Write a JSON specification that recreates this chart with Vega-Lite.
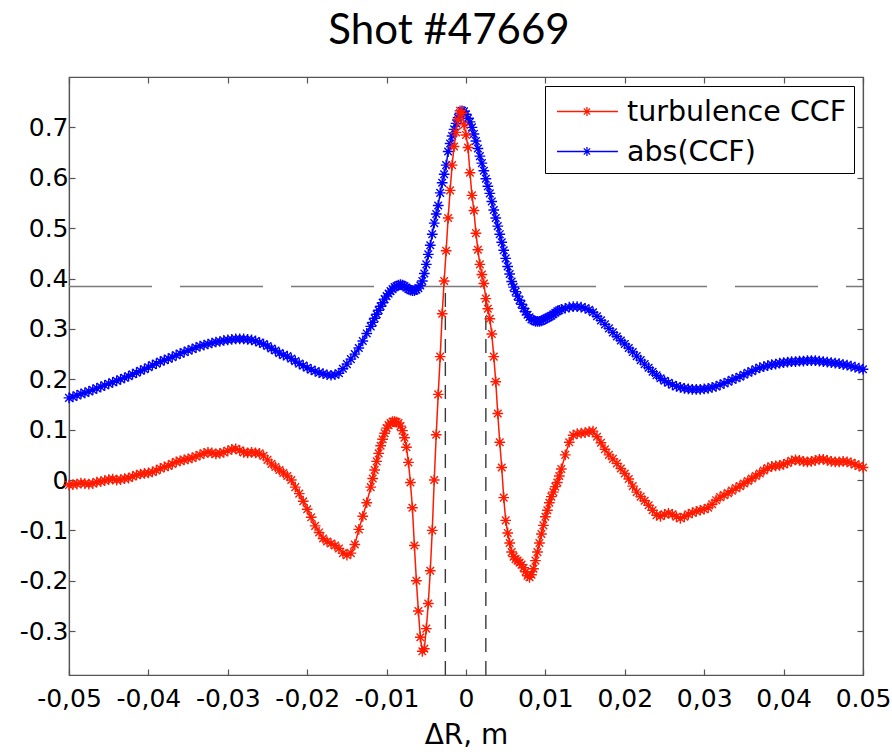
{
  "$schema": "https://vega.github.io/schema/vega-lite/v6.json",
  "width": 794,
  "height": 598,
  "autosize": {"type": "none"},
  "padding": {"left": 69, "top": 77, "right": 29, "bottom": 77},
  "background": "white",
  "title": {"text": "Shot #47669", "font": "Lato", "fontSize": 42, "fontWeight": "normal", "color": "black", "anchor": "middle", "frame": "group", "dx": -17, "dy": 41, "baseline": "alphabetic", "offset": 31},
  "config": {
    "font": "DejaVu Sans",
    "view": {"stroke": "#555", "strokeWidth": 1.2},
    "axis": {"domainColor": "#555", "domainWidth": 1.2, "tickColor": "#555", "tickWidth": 1.2, "tickSize": -6, "labelFont": "DejaVu Sans", "labelFontSize": 25, "labelColor": "black", "labelOverlap": false, "labelFlush": false, "titleFont": "DejaVu Sans", "titleFontSize": 28, "titleFontWeight": "normal", "titleColor": "black", "grid": false}
  },
  "datasets": {
    "ccf": [
      {"x":-0.05,"t":-0.010,"a":0.163},{"x":-0.0495,"t":-0.009,"a":0.165},{"x":-0.049,"t":-0.008,"a":0.168},{"x":-0.0485,"t":-0.006,"a":0.171},{"x":-0.048,"t":-0.007,"a":0.173},{"x":-0.0475,"t":-0.008,"a":0.176},{"x":-0.047,"t":-0.007,"a":0.179},{"x":-0.0465,"t":-0.004,"a":0.182},{"x":-0.046,"t":-0.003,"a":0.185},{"x":-0.0455,"t":-0.001,"a":0.188},
      {"x":-0.045,"t":0.001,"a":0.191},{"x":-0.0445,"t":0.002,"a":0.194},{"x":-0.044,"t":0.000,"a":0.197},{"x":-0.0435,"t":0.001,"a":0.200},{"x":-0.043,"t":0.003,"a":0.203},{"x":-0.0425,"t":0.004,"a":0.206},{"x":-0.042,"t":0.007,"a":0.210},{"x":-0.0415,"t":0.010,"a":0.213},{"x":-0.041,"t":0.012,"a":0.217},{"x":-0.0405,"t":0.013,"a":0.220},
      {"x":-0.04,"t":0.014,"a":0.224},{"x":-0.0395,"t":0.016,"a":0.228},{"x":-0.039,"t":0.019,"a":0.231},{"x":-0.0385,"t":0.023,"a":0.235},{"x":-0.038,"t":0.026,"a":0.238},{"x":-0.0375,"t":0.028,"a":0.241},{"x":-0.037,"t":0.032,"a":0.244},{"x":-0.0365,"t":0.036,"a":0.248},{"x":-0.036,"t":0.038,"a":0.251},{"x":-0.0355,"t":0.040,"a":0.254},
      {"x":-0.035,"t":0.042,"a":0.257},{"x":-0.0345,"t":0.044,"a":0.260},{"x":-0.034,"t":0.047,"a":0.263},{"x":-0.0335,"t":0.050,"a":0.266},{"x":-0.033,"t":0.053,"a":0.268},{"x":-0.0325,"t":0.055,"a":0.270},{"x":-0.032,"t":0.054,"a":0.272},{"x":-0.0315,"t":0.052,"a":0.274},{"x":-0.031,"t":0.053,"a":0.275},{"x":-0.0305,"t":0.055,"a":0.277},
      {"x":-0.03,"t":0.058,"a":0.278},{"x":-0.0295,"t":0.061,"a":0.279},{"x":-0.029,"t":0.062,"a":0.280},{"x":-0.0285,"t":0.059,"a":0.280},{"x":-0.028,"t":0.055,"a":0.280},{"x":-0.0275,"t":0.054,"a":0.279},{"x":-0.027,"t":0.055,"a":0.278},{"x":-0.0265,"t":0.054,"a":0.276},{"x":-0.026,"t":0.053,"a":0.273},{"x":-0.0255,"t":0.048,"a":0.270},
      {"x":-0.025,"t":0.040,"a":0.266},{"x":-0.0245,"t":0.032,"a":0.261},{"x":-0.024,"t":0.026,"a":0.257},{"x":-0.0235,"t":0.020,"a":0.252},{"x":-0.023,"t":0.014,"a":0.248},{"x":-0.0225,"t":0.008,"a":0.246},{"x":-0.022,"t":0.000,"a":0.241},{"x":-0.0215,"t":-0.014,"a":0.236},{"x":-0.021,"t":-0.027,"a":0.231},{"x":-0.0205,"t":-0.042,"a":0.227},
      {"x":-0.02,"t":-0.058,"a":0.223},{"x":-0.0195,"t":-0.074,"a":0.219},{"x":-0.019,"t":-0.091,"a":0.216},{"x":-0.0185,"t":-0.104,"a":0.213},{"x":-0.018,"t":-0.116,"a":0.211},{"x":-0.0175,"t":-0.122,"a":0.209},{"x":-0.017,"t":-0.126,"a":0.208},{"x":-0.0165,"t":-0.130,"a":0.209},{"x":-0.016,"t":-0.136,"a":0.212},{"x":-0.0155,"t":-0.145,"a":0.221},
      {"x":-0.015,"t":-0.149,"a":0.230},{"x":-0.0145,"t":-0.145,"a":0.240},{"x":-0.014,"t":-0.128,"a":0.250},{"x":-0.0135,"t":-0.098,"a":0.262},{"x":-0.013,"t":-0.072,"a":0.276},{"x":-0.0125,"t":-0.045,"a":0.291},
      {"x":-0.012,"t":-0.014,"a":0.305},{"x":-0.01175,"t":0.003,"a":0.313},{"x":-0.0115,"t":0.020,"a":0.321},{"x":-0.01125,"t":0.037,"a":0.329},{"x":-0.011,"t":0.053,"a":0.337},{"x":-0.01075,"t":0.068,"a":0.345},{"x":-0.0105,"t":0.081,"a":0.352},{"x":-0.01025,"t":0.093,"a":0.359},
      {"x":-0.01,"t":0.103,"a":0.365},{"x":-0.00975,"t":0.109,"a":0.370},{"x":-0.0095,"t":0.113,"a":0.375},{"x":-0.00925,"t":0.116,"a":0.379},{"x":-0.009,"t":0.116,"a":0.383},{"x":-0.00875,"t":0.115,"a":0.385},{"x":-0.0085,"t":0.113,"a":0.387},{"x":-0.00825,"t":0.107,"a":0.388},
      {"x":-0.008,"t":0.098,"a":0.387},{"x":-0.00775,"t":0.084,"a":0.385},{"x":-0.0075,"t":0.065,"a":0.382},{"x":-0.00725,"t":0.035,"a":0.379},{"x":-0.007,"t":-0.005,"a":0.377},{"x":-0.00675,"t":-0.055,"a":0.376},{"x":-0.0065,"t":-0.130,"a":0.376},{"x":-0.00625,"t":-0.200,"a":0.378},
      {"x":-0.006,"t":-0.260,"a":0.381},{"x":-0.00575,"t":-0.312,"a":0.386},{"x":-0.0055,"t":-0.340,"a":0.395},{"x":-0.00525,"t":-0.335,"a":0.410},{"x":-0.005,"t":-0.295,"a":0.428},{"x":-0.00475,"t":-0.245,"a":0.448},{"x":-0.0045,"t":-0.180,"a":0.466},{"x":-0.00425,"t":-0.100,"a":0.488},
      {"x":-0.004,"t":0.000,"a":0.510},{"x":-0.00375,"t":0.090,"a":0.528},{"x":-0.0035,"t":0.170,"a":0.545},{"x":-0.00325,"t":0.245,"a":0.570},{"x":-0.003,"t":0.330,"a":0.590},{"x":-0.00275,"t":0.395,"a":0.607},{"x":-0.0025,"t":0.455,"a":0.625},{"x":-0.00225,"t":0.520,"a":0.652},
      {"x":-0.002,"t":0.575,"a":0.668},{"x":-0.00175,"t":0.625,"a":0.683},{"x":-0.0015,"t":0.662,"a":0.696},{"x":-0.00125,"t":0.690,"a":0.708},{"x":-0.001,"t":0.715,"a":0.719},{"x":-0.00075,"t":0.733,"a":0.728},{"x":-0.0005,"t":0.728,"a":0.733},{"x":-0.00025,"t":0.705,"a":0.732},
      {"x":0,"t":0.685,"a":0.726},{"x":0.00025,"t":0.660,"a":0.718},{"x":0.0005,"t":0.610,"a":0.711},{"x":0.00075,"t":0.565,"a":0.700},{"x":0.001,"t":0.535,"a":0.687},{"x":0.00125,"t":0.490,"a":0.673},{"x":0.0015,"t":0.457,"a":0.658},{"x":0.00175,"t":0.428,"a":0.643},
      {"x":0.002,"t":0.408,"a":0.629},{"x":0.00225,"t":0.390,"a":0.614},{"x":0.0025,"t":0.360,"a":0.598},{"x":0.00275,"t":0.340,"a":0.583},{"x":0.003,"t":0.320,"a":0.569},{"x":0.00325,"t":0.290,"a":0.553},{"x":0.0035,"t":0.245,"a":0.536},{"x":0.00375,"t":0.195,"a":0.520},
      {"x":0.004,"t":0.132,"a":0.504},{"x":0.00425,"t":0.075,"a":0.488},{"x":0.0045,"t":0.025,"a":0.472},{"x":0.00475,"t":-0.035,"a":0.456},{"x":0.005,"t":-0.080,"a":0.440},{"x":0.00525,"t":-0.105,"a":0.424},{"x":0.0055,"t":-0.125,"a":0.409},{"x":0.00575,"t":-0.143,"a":0.394},
      {"x":0.006,"t":-0.152,"a":0.383},{"x":0.00625,"t":-0.157,"a":0.374},{"x":0.0065,"t":-0.160,"a":0.365},{"x":0.00675,"t":-0.164,"a":0.357},{"x":0.007,"t":-0.168,"a":0.349},{"x":0.00725,"t":-0.174,"a":0.341},{"x":0.0075,"t":-0.182,"a":0.334},{"x":0.00775,"t":-0.190,"a":0.328},
      {"x":0.008,"t":-0.193,"a":0.323},{"x":0.00825,"t":-0.188,"a":0.319},{"x":0.0085,"t":-0.176,"a":0.317},{"x":0.00875,"t":-0.160,"a":0.315},{"x":0.009,"t":-0.143,"a":0.315},{"x":0.00925,"t":-0.125,"a":0.315},{"x":0.0095,"t":-0.107,"a":0.316},{"x":0.00975,"t":-0.090,"a":0.318},
      {"x":0.01,"t":-0.073,"a":0.320},{"x":0.01025,"t":-0.060,"a":0.322},{"x":0.0105,"t":-0.045,"a":0.324},{"x":0.01075,"t":-0.033,"a":0.326},{"x":0.011,"t":-0.024,"a":0.329},{"x":0.01125,"t":-0.013,"a":0.332},{"x":0.0115,"t":-0.005,"a":0.335},{"x":0.01175,"t":0.008,"a":0.337},
      {"x":0.012,"t":0.022,"a":0.339},
      {"x":0.0125,"t":0.050,"a":0.341},{"x":0.013,"t":0.075,"a":0.343},{"x":0.0135,"t":0.089,"a":0.344},{"x":0.014,"t":0.092,"a":0.344},{"x":0.0145,"t":0.093,"a":0.343},{"x":0.015,"t":0.094,"a":0.341},{"x":0.0155,"t":0.096,"a":0.338},{"x":0.016,"t":0.097,"a":0.333},{"x":0.0165,"t":0.086,"a":0.325},{"x":0.017,"t":0.074,"a":0.317},
      {"x":0.0175,"t":0.061,"a":0.309},{"x":0.018,"t":0.050,"a":0.301},{"x":0.0185,"t":0.042,"a":0.293},{"x":0.019,"t":0.033,"a":0.285},{"x":0.0195,"t":0.023,"a":0.277},{"x":0.02,"t":0.013,"a":0.270},{"x":0.0205,"t":0.002,"a":0.262},{"x":0.021,"t":-0.012,"a":0.254},{"x":0.0215,"t":-0.024,"a":0.246},{"x":0.022,"t":-0.033,"a":0.238},
      {"x":0.0225,"t":-0.041,"a":0.230},{"x":0.023,"t":-0.050,"a":0.223},{"x":0.0235,"t":-0.060,"a":0.215},{"x":0.024,"t":-0.070,"a":0.208},{"x":0.0245,"t":-0.072,"a":0.202},{"x":0.025,"t":-0.068,"a":0.197},{"x":0.0255,"t":-0.066,"a":0.193},{"x":0.026,"t":-0.068,"a":0.189},{"x":0.0265,"t":-0.073,"a":0.186},{"x":0.027,"t":-0.076,"a":0.184},
      {"x":0.0275,"t":-0.073,"a":0.182},{"x":0.028,"t":-0.068,"a":0.181},{"x":0.0285,"t":-0.065,"a":0.180},{"x":0.029,"t":-0.062,"a":0.180},{"x":0.0295,"t":-0.060,"a":0.180},{"x":0.03,"t":-0.058,"a":0.181},{"x":0.0305,"t":-0.055,"a":0.182},{"x":0.031,"t":-0.048,"a":0.184},{"x":0.0315,"t":-0.040,"a":0.186},{"x":0.032,"t":-0.034,"a":0.189},
      {"x":0.0325,"t":-0.030,"a":0.192},{"x":0.033,"t":-0.026,"a":0.195},{"x":0.0335,"t":-0.021,"a":0.199},{"x":0.034,"t":-0.016,"a":0.202},{"x":0.0345,"t":-0.012,"a":0.205},{"x":0.035,"t":-0.007,"a":0.209},{"x":0.0355,"t":-0.002,"a":0.213},{"x":0.036,"t":0.003,"a":0.216},{"x":0.0365,"t":0.008,"a":0.220},{"x":0.037,"t":0.013,"a":0.223},
      {"x":0.0375,"t":0.019,"a":0.225},{"x":0.038,"t":0.024,"a":0.227},{"x":0.0385,"t":0.027,"a":0.229},{"x":0.039,"t":0.028,"a":0.230},{"x":0.0395,"t":0.029,"a":0.232},{"x":0.04,"t":0.031,"a":0.233},{"x":0.0405,"t":0.034,"a":0.234},{"x":0.041,"t":0.038,"a":0.235},{"x":0.0415,"t":0.040,"a":0.235},{"x":0.042,"t":0.039,"a":0.236},
      {"x":0.0425,"t":0.037,"a":0.236},{"x":0.043,"t":0.036,"a":0.237},{"x":0.0435,"t":0.037,"a":0.237},{"x":0.044,"t":0.039,"a":0.237},{"x":0.0445,"t":0.041,"a":0.236},{"x":0.045,"t":0.041,"a":0.235},{"x":0.0455,"t":0.039,"a":0.234},{"x":0.046,"t":0.037,"a":0.233},{"x":0.0465,"t":0.036,"a":0.232},{"x":0.047,"t":0.036,"a":0.231},
      {"x":0.0475,"t":0.037,"a":0.229},{"x":0.048,"t":0.036,"a":0.228},{"x":0.0485,"t":0.034,"a":0.226},{"x":0.049,"t":0.031,"a":0.224},{"x":0.0495,"t":0.028,"a":0.222},{"x":0.05,"t":0.025,"a":0.220}
    ],
    "halfwidth": [
      {"x": -0.0026, "ylow": -0.387, "yhigh": 0.384},
      {"x": 0.0025, "ylow": -0.387, "yhigh": 0.384}
    ],
    "level": [{"y": 0.384}]
  },
  "layer": [
    {
      "data": {"name": "level"},
      "mark": {"type": "rule", "color": "#7a7a7a", "strokeWidth": 1.5, "strokeDash": [83, 28], "strokeDashOffset": 66},
      "encoding": {
        "y": {"field": "y", "type": "quantitative", "scale": {"domain": [-0.387, 0.8], "nice": false, "zero": false},
          "axis": {"orient": "left", "values": [-0.3, -0.2, -0.1, 0, 0.1, 0.2, 0.3, 0.4, 0.5, 0.6, 0.7], "labelPadding": 7, "labelExpr": "datum.value == 0 ? '0' : (datum.value < 0 ? '-' : '') + '0.' + toString(round(abs(datum.value) * 10))", "title": null}}
      }
    },
    {
      "data": {"name": "halfwidth"},
      "mark": {"type": "rule", "color": "#3a3a3a", "strokeWidth": 1.4, "strokeDash": [14, 9]},
      "encoding": {
        "x": {"field": "x", "type": "quantitative", "scale": {"domain": [-0.05, 0.05], "nice": false, "zero": false},
          "axis": {"orient": "bottom", "values": [-0.05, -0.04, -0.03, -0.02, -0.01, 0, 0.01, 0.02, 0.03, 0.04, 0.05], "labelPadding": 17, "labelExpr": "datum.value == 0 ? '0' : datum.value > 0.045 ? '0.05' : (datum.value < 0 ? '-' : '') + '0,0' + toString(round(abs(datum.value) * 100))", "title": "ΔR, m", "titlePadding": 10}},
        "y": {"field": "ylow", "type": "quantitative", "axis": null},
        "y2": {"field": "yhigh"}
      }
    },
    {
      "data": {"name": "ccf"},
      "transform": [{"fold": ["t", "a"], "as": ["series", "value"]}, {"filter": "datum.series == 'a'"}],
      "mark": {"type": "line", "strokeWidth": 1.5},
      "encoding": {
        "x": {"field": "x", "type": "quantitative", "axis": {"orient": "top", "values": [-0.05, -0.04, -0.03, -0.02, -0.01, 0, 0.01, 0.02, 0.03, 0.04, 0.05], "labels": false, "title": null}},
        "y": {"field": "value", "type": "quantitative", "axis": {"orient": "right", "values": [-0.3, -0.2, -0.1, 0, 0.1, 0.2, 0.3, 0.4, 0.5, 0.6, 0.7], "labels": false, "title": null}},
        "color": {"field": "series", "type": "nominal", "scale": {"domain": ["t", "a"], "range": ["#ff1a00", "#0000ff"]},
          "legend": {"orient": "top-right", "offset": 9, "title": null, "strokeColor": "black", "fillColor": "white", "padding": 7, "rowPadding": 7, "labelFont": "DejaVu Sans", "labelFontSize": 28.5, "labelColor": "black", "labelLimit": 0, "labelOffset": 38, "symbolType": "M-0.77,0L2.71,0M0.94,-0.26L0.94,0.26M0.76,-0.18L1.12,0.18M0.76,0.18L1.12,-0.18", "symbolSize": 1225, "symbolStrokeWidth": 1.3, "symbolFillColor": "transparent", "labelExpr": "datum.label == 't' ? 'turbulence CCF' : 'abs(CCF)'"}}
      }
    },
    {
      "data": {"name": "ccf"},
      "transform": [{"fold": ["t", "a"], "as": ["series", "value"]}, {"filter": "datum.series == 'a'"}],
      "mark": {"type": "point", "shape": "M-1,0L1,0M0,-1L0,1M-0.71,-0.71L0.71,0.71M-0.71,0.71L0.71,-0.71", "filled": false, "size": 115, "strokeWidth": 1.4, "opacity": 1},
      "encoding": {
        "x": {"field": "x", "type": "quantitative", "axis": null},
        "y": {"field": "value", "type": "quantitative", "axis": null},
        "color": {"field": "series", "type": "nominal", "legend": {"orient": "top-right", "offset": 9, "title": null, "strokeColor": "black", "fillColor": "white", "padding": 7, "rowPadding": 7, "labelFont": "DejaVu Sans", "labelFontSize": 28.5, "labelColor": "black", "labelLimit": 0, "labelOffset": 38, "symbolType": "M-0.77,0L2.71,0M0.94,-0.26L0.94,0.26M0.76,-0.18L1.12,0.18M0.76,0.18L1.12,-0.18", "symbolSize": 1225, "symbolStrokeWidth": 1.3, "symbolFillColor": "transparent", "labelExpr": "datum.label == 't' ? 'turbulence CCF' : 'abs(CCF)'"}}
      }
    },
    {
      "data": {"name": "ccf"},
      "transform": [{"fold": ["t", "a"], "as": ["series", "value"]}, {"filter": "datum.series == 't'"}],
      "mark": {"type": "line", "strokeWidth": 1.5},
      "encoding": {
        "x": {"field": "x", "type": "quantitative", "axis": null},
        "y": {"field": "value", "type": "quantitative", "axis": null},
        "color": {"field": "series", "type": "nominal", "legend": {"orient": "top-right", "offset": 9, "title": null, "strokeColor": "black", "fillColor": "white", "padding": 7, "rowPadding": 7, "labelFont": "DejaVu Sans", "labelFontSize": 28.5, "labelColor": "black", "labelLimit": 0, "labelOffset": 38, "symbolType": "M-0.77,0L2.71,0M0.94,-0.26L0.94,0.26M0.76,-0.18L1.12,0.18M0.76,0.18L1.12,-0.18", "symbolSize": 1225, "symbolStrokeWidth": 1.3, "symbolFillColor": "transparent", "labelExpr": "datum.label == 't' ? 'turbulence CCF' : 'abs(CCF)'"}}
      }
    },
    {
      "data": {"name": "ccf"},
      "transform": [{"fold": ["t", "a"], "as": ["series", "value"]}, {"filter": "datum.series == 't'"}],
      "mark": {"type": "point", "shape": "M-1,0L1,0M0,-1L0,1M-0.71,-0.71L0.71,0.71M-0.71,0.71L0.71,-0.71", "filled": false, "size": 115, "strokeWidth": 1.4, "opacity": 1},
      "encoding": {
        "x": {"field": "x", "type": "quantitative", "axis": null},
        "y": {"field": "value", "type": "quantitative", "axis": null},
        "color": {"field": "series", "type": "nominal", "legend": {"orient": "top-right", "offset": 9, "title": null, "strokeColor": "black", "fillColor": "white", "padding": 7, "rowPadding": 7, "labelFont": "DejaVu Sans", "labelFontSize": 28.5, "labelColor": "black", "labelLimit": 0, "labelOffset": 38, "symbolType": "M-0.77,0L2.71,0M0.94,-0.26L0.94,0.26M0.76,-0.18L1.12,0.18M0.76,0.18L1.12,-0.18", "symbolSize": 1225, "symbolStrokeWidth": 1.3, "symbolFillColor": "transparent", "labelExpr": "datum.label == 't' ? 'turbulence CCF' : 'abs(CCF)'"}}
      }
    }
  ],
  "resolve": {"axis": {"x": "independent", "y": "independent"}}
}
